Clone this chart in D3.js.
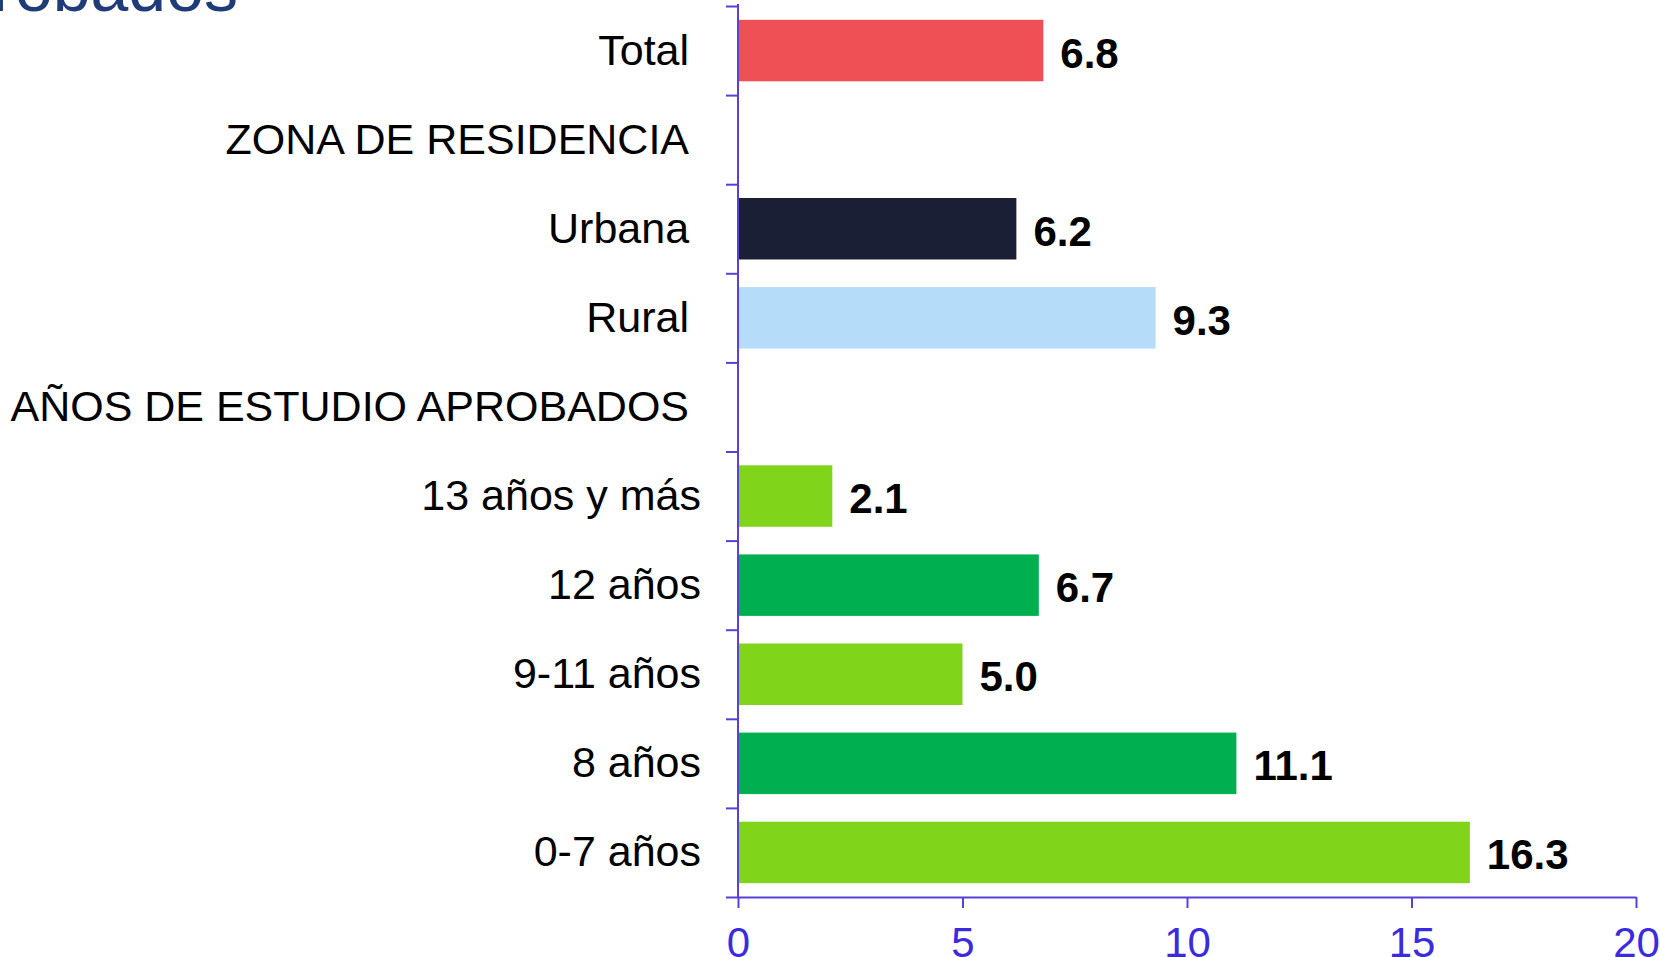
<!DOCTYPE html>
<html>
<head>
<meta charset="utf-8">
<script src="https://cdn.jsdelivr.net/npm/d3@7"></script>
<style>
  body { margin: 0; background: #fff; }
  svg { display: block; font-family: "Liberation Sans", Arial, sans-serif; }
</style>
</head>
<body>
<svg id="vis" width="1660" height="957"></svg>
<script>
// categories (top to bottom); group headers have no value
var categorias = ["Total\u00a0", "ZONA DE RESIDENCIA\u00a0", "Urbana\u00a0", "Rural\u00a0",
  "AÑOS DE ESTUDIO APROBADOS\u00a0", "13 años y más", "12 años", "9-11 años", "8 años", "0-7 años"];
var valores = [6.8, null, 6.2, 9.3, null, 2.1, 6.7, 5.0, 11.1, 16.3];
var cores = ["#ef5056", null, "#1b1f35", "#b5dcf9", null, "#80d41a", "#00b050", "#80d41a", "#00b050", "#80d41a"];
var xTicks = [0, 5, 10, 15, 20];
var titulo = "Años de estudio aprobados";

var svg = d3.select("#vis");
var corEixo = "#5b3fd6";

var x = d3.scaleLinear()
    .domain([0, 20])
    .range([738, 1636]);

var y = d3.scaleBand()
    .domain(categorias)
    .range([6, 897])
    .paddingInner(0.31)
    .paddingOuter(0.155);

// linear scale for band boundaries (y axis ticks sit between categories)
var yLim = d3.scaleLinear()
    .domain([0, categorias.length])
    .range([6, 897]);

// title, cut by the top edge
svg.append("text")
    .attr("x", 238)
    .attr("y", 11)
    .attr("text-anchor", "end")
    .attr("font-size", 68)
    .attr("fill", "#1f3c78")
    .text(titulo);

var dados = categorias.map(function(c, i) { return {cat: c, val: valores[i], cor: cores[i]}; })
    .filter(d => d.val !== null);

// bars
svg.append("g")
  .selectAll("rect")
  .data(dados)
  .enter().append("rect")
    .attr("x", x(0) + 1)
    .attr("y", d => y(d.cat))
    .attr("width", d => x(d.val) - x(0) - 1)
    .attr("height", y.bandwidth())
    .attr("fill", d => d.cor);

// value labels
svg.append("g")
  .selectAll("text")
  .data(dados)
  .enter().append("text")
    .attr("x", d => x(d.val) + 17)
    .attr("y", d => y(d.cat) + y.bandwidth() / 2 + 17)
    .attr("font-size", 42)
    .attr("font-weight", "bold")
    .attr("fill", "#000")
    .text(d => d.val.toFixed(1));

// category labels
svg.append("g")
  .selectAll("text")
  .data(categorias)
  .enter().append("text")
    .attr("x", 701)
    .attr("y", d => y(d) + y.bandwidth() / 2 + 14)
    .attr("text-anchor", "end")
    .attr("font-size", 43)
    .attr("fill", "#000")
    .text(d => d);

// y axis
var gy = svg.append("g")
    .attr("transform", "translate(" + x(0) + ",0)")
    .call(d3.axisLeft(yLim)
      .tickValues(d3.range(0, categorias.length + 1))
      .tickSize(12)
      .tickFormat(""));
gy.selectAll("line, path").attr("stroke", corEixo).attr("stroke-width", 2);
gy.select(".domain").attr("d", "M0,4V" + yLim.range()[1]);

// x axis
var gx = svg.append("g")
    .attr("transform", "translate(0," + yLim.range()[1] + ")")
    .call(d3.axisBottom(x)
      .tickValues(xTicks)
      .tickSize(11)
      .tickSizeOuter(0)
      .tickPadding(19));
gx.selectAll("line, path").attr("stroke", corEixo).attr("stroke-width", 2);
gx.selectAll("text")
    .attr("font-size", 42)
    .attr("font-family", "Liberation Sans, Arial, sans-serif")
    .attr("fill", "#3a2be0");
</script>
</body>
</html>
